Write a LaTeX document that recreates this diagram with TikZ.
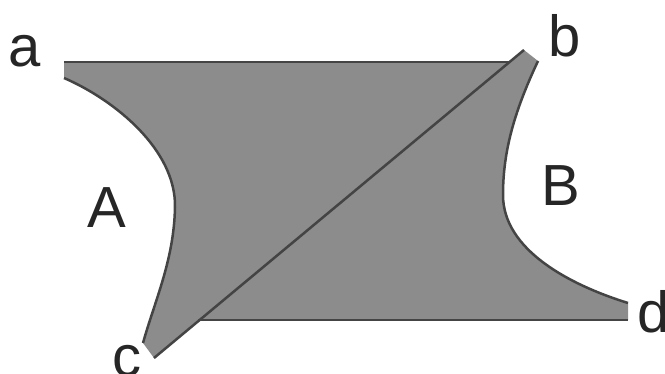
\documentclass[tikz,border=0pt]{standalone}
\usepackage{fontspec}
\setmainfont{Liberation Sans}
\definecolor{regiongrey}{HTML}{8C8C8C}
\definecolor{edge}{HTML}{444444}
\tikzset{lbl/.style={anchor=base,inner sep=0pt,font=\fontsize{58}{60}\selectfont,text=black!85},
  rim/.style={draw=edge,line width=2.5pt}}
\begin{document}
\begin{tikzpicture}[x=1pt,y=-1pt]
    \useasboundingbox (0,0) rectangle (665,374);
    % corners of the figure
    \coordinate (a) at (64,62);
    \coordinate (a2) at (64,78);
    \coordinate (ab) at (509,62);
    \coordinate (b) at (524,50);
    \coordinate (b2) at (538,61);
    \coordinate (d2) at (628,303);
    \coordinate (d) at (628,320);
    \coordinate (cd) at (198,320);
    \coordinate (c) at (154,358);
    \coordinate (c2) at (143,343);

    % grey region
    \fill[regiongrey] (a) -- (ab) -- (b) -- (b2)
        .. controls (515,110) and (503,150) .. (503,195)
        .. controls (503,250) and (570,285) .. (d2) -- (d) -- (cd) -- (c) -- (c2)
        .. controls (155,300) and (174,260) .. (175,207)
        .. controls (176,150) and (115,100) .. (a2) -- cycle;

    % outline
    \draw[rim] (a) -- (ab);
    \draw[rim] (a2) .. controls (115,100) and (176,150) .. (175,207)
        .. controls (174,260) and (155,300) .. (c2);
    \draw[rim] (b2) .. controls (515,110) and (503,150) .. (503,195)
        .. controls (503,250) and (570,285) .. (d2);
    \draw[rim] (cd) -- (d);
    \draw[rim] (c) -- (b);

    % labels
    \node[lbl] (la) at (25,67) {a};
    \node[lbl] (lb) at (565,57) {b};
    \node[lbl] (lc) at (127,377) {c};
    \node[lbl] (ld) at (654,333) {d};
    \node[lbl] (lA) at (107,228) {A};
    \node[lbl] (lB) at (561,206) {B};
\end{tikzpicture}
\end{document}
